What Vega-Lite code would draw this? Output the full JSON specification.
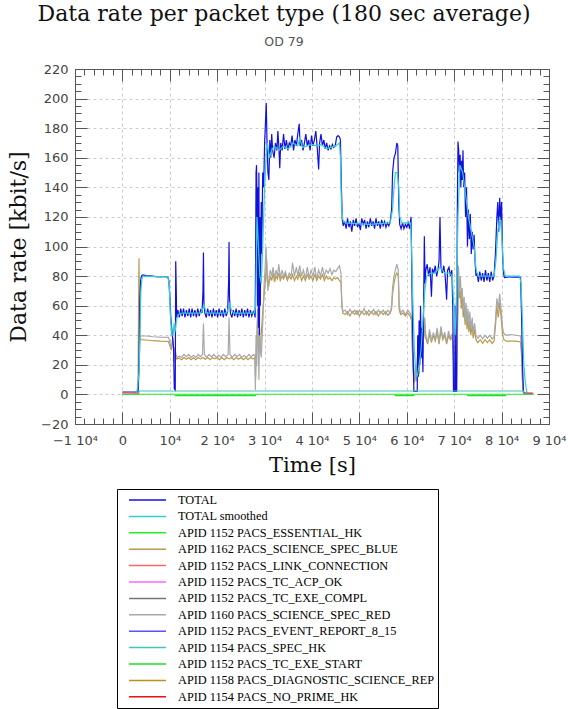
{
  "$schema": "https://vega.github.io/schema/vega-lite/v6.json",
  "width": 474,
  "height": 355,
  "autosize": {"type": "none"},
  "padding": {"left": 75, "top": 69, "right": 19, "bottom": 285},
  "background": "white",
  "title": {
    "text": "Data rate per packet type (180 sec average)",
    "subtitle": "OD 79",
    "font": "DejaVu Serif",
    "fontSize": 22,
    "fontWeight": "normal",
    "color": "#111111",
    "subtitleFont": "DejaVu Sans",
    "subtitleFontSize": 12.5,
    "subtitleColor": "#555555",
    "anchor": "middle",
    "dx": -28,
    "offset": 14,
    "subtitlePadding": 10
  },
  "config": {
    "view": {"stroke": null},
    "axis": {
      "domainColor": "#555555",
      "tickColor": "#555555",
      "labelColor": "#444444",
      "labelFont": "DejaVu Sans",
      "labelFontSize": 13,
      "titleFont": "DejaVu Serif",
      "titleFontSize": 21,
      "titleFontWeight": "normal",
      "titleColor": "#111111",
      "gridColor": "#cccccc",
      "gridDash": [3, 3],
      "gridWidth": 1
    },
    "legend": {
      "orient": "none",
      "legendX": 42,
      "legendY": 420,
      "strokeColor": "#000000",
      "fillColor": "#ffffff",
      "padding": 4,
      "labelFont": "Liberation Serif",
      "labelFontSize": 12.3,
      "labelColor": "#000000",
      "labelLimit": 400,
      "labelOffset": 11,
      "symbolType": "stroke",
      "symbolSize": 1369,
      "symbolStrokeWidth": 1.5,
      "symbolOffset": 7,
      "clipHeight": 14,
      "rowPadding": 2.4
    }
  },
  "data": {
    "values": [
      {"s":"APID 1162 PACS_SCIENCE_SPEC_BLUE","t":0,"v":0},{"s":"APID 1162 PACS_SCIENCE_SPEC_BLUE","t":3300,"v":0},{"s":"APID 1162 PACS_SCIENCE_SPEC_BLUE","t":3400,"v":55},{"s":"APID 1162 PACS_SCIENCE_SPEC_BLUE","t":3500,"v":92},{"s":"APID 1162 PACS_SCIENCE_SPEC_BLUE","t":3600,"v":60},{"s":"APID 1162 PACS_SCIENCE_SPEC_BLUE","t":3700,"v":40},{"s":"APID 1162 PACS_SCIENCE_SPEC_BLUE","t":3900,"v":37},{"s":"APID 1162 PACS_SCIENCE_SPEC_BLUE","t":5000,"v":36.8},{"s":"APID 1162 PACS_SCIENCE_SPEC_BLUE","t":6500,"v":36.3},{"s":"APID 1162 PACS_SCIENCE_SPEC_BLUE","t":8000,"v":36},{"s":"APID 1162 PACS_SCIENCE_SPEC_BLUE","t":9700,"v":35.8},{"s":"APID 1162 PACS_SCIENCE_SPEC_BLUE","t":9900,"v":34},{"s":"APID 1162 PACS_SCIENCE_SPEC_BLUE","t":10100,"v":32},{"s":"APID 1162 PACS_SCIENCE_SPEC_BLUE","t":10300,"v":30},{"s":"APID 1162 PACS_SCIENCE_SPEC_BLUE","t":10500,"v":34},{"s":"APID 1162 PACS_SCIENCE_SPEC_BLUE","t":10700,"v":36},{"s":"APID 1162 PACS_SCIENCE_SPEC_BLUE","t":10900,"v":24},{"s":"APID 1162 PACS_SCIENCE_SPEC_BLUE","t":11100,"v":29},{"s":"APID 1162 PACS_SCIENCE_SPEC_BLUE","t":11400,"v":24},
      {"s":"APID 1162 PACS_SCIENCE_SPEC_BLUE","t":12000,"v":24.5},{"s":"APID 1162 PACS_SCIENCE_SPEC_BLUE","t":12500,"v":23.5},{"s":"APID 1162 PACS_SCIENCE_SPEC_BLUE","t":13000,"v":25},{"s":"APID 1162 PACS_SCIENCE_SPEC_BLUE","t":13500,"v":23.8},{"s":"APID 1162 PACS_SCIENCE_SPEC_BLUE","t":14000,"v":25},{"s":"APID 1162 PACS_SCIENCE_SPEC_BLUE","t":14500,"v":23.5},{"s":"APID 1162 PACS_SCIENCE_SPEC_BLUE","t":15000,"v":24.8},{"s":"APID 1162 PACS_SCIENCE_SPEC_BLUE","t":15500,"v":23.5},{"s":"APID 1162 PACS_SCIENCE_SPEC_BLUE","t":16000,"v":25},{"s":"APID 1162 PACS_SCIENCE_SPEC_BLUE","t":16500,"v":24},{"s":"APID 1162 PACS_SCIENCE_SPEC_BLUE","t":17000,"v":25},{"s":"APID 1162 PACS_SCIENCE_SPEC_BLUE","t":17500,"v":23.8},{"s":"APID 1162 PACS_SCIENCE_SPEC_BLUE","t":18000,"v":25},{"s":"APID 1162 PACS_SCIENCE_SPEC_BLUE","t":18500,"v":23.5},{"s":"APID 1162 PACS_SCIENCE_SPEC_BLUE","t":19000,"v":25},{"s":"APID 1162 PACS_SCIENCE_SPEC_BLUE","t":19500,"v":24},{"s":"APID 1162 PACS_SCIENCE_SPEC_BLUE","t":20000,"v":25},{"s":"APID 1162 PACS_SCIENCE_SPEC_BLUE","t":20500,"v":23.5},{"s":"APID 1162 PACS_SCIENCE_SPEC_BLUE","t":21000,"v":24.8},{"s":"APID 1162 PACS_SCIENCE_SPEC_BLUE","t":21500,"v":23.5},{"s":"APID 1162 PACS_SCIENCE_SPEC_BLUE","t":22000,"v":25},{"s":"APID 1162 PACS_SCIENCE_SPEC_BLUE","t":22500,"v":24},{"s":"APID 1162 PACS_SCIENCE_SPEC_BLUE","t":23000,"v":25},{"s":"APID 1162 PACS_SCIENCE_SPEC_BLUE","t":23500,"v":23.5},{"s":"APID 1162 PACS_SCIENCE_SPEC_BLUE","t":24000,"v":25},{"s":"APID 1162 PACS_SCIENCE_SPEC_BLUE","t":24500,"v":23.8},{"s":"APID 1162 PACS_SCIENCE_SPEC_BLUE","t":25000,"v":25},{"s":"APID 1162 PACS_SCIENCE_SPEC_BLUE","t":25500,"v":23.5},{"s":"APID 1162 PACS_SCIENCE_SPEC_BLUE","t":26000,"v":24.8},{"s":"APID 1162 PACS_SCIENCE_SPEC_BLUE","t":26500,"v":23.5},{"s":"APID 1162 PACS_SCIENCE_SPEC_BLUE","t":27000,"v":25},{"s":"APID 1162 PACS_SCIENCE_SPEC_BLUE","t":27500,"v":24},{"s":"APID 1162 PACS_SCIENCE_SPEC_BLUE","t":27950,"v":24.5},
      {"s":"APID 1162 PACS_SCIENCE_SPEC_BLUE","t":28100,"v":10},{"s":"APID 1162 PACS_SCIENCE_SPEC_BLUE","t":28300,"v":35},{"s":"APID 1162 PACS_SCIENCE_SPEC_BLUE","t":28500,"v":50},{"s":"APID 1162 PACS_SCIENCE_SPEC_BLUE","t":28700,"v":30},{"s":"APID 1162 PACS_SCIENCE_SPEC_BLUE","t":28900,"v":40},{"s":"APID 1162 PACS_SCIENCE_SPEC_BLUE","t":29100,"v":28},{"s":"APID 1162 PACS_SCIENCE_SPEC_BLUE","t":29300,"v":42},{"s":"APID 1162 PACS_SCIENCE_SPEC_BLUE","t":29600,"v":55},{"s":"APID 1162 PACS_SCIENCE_SPEC_BLUE","t":29900,"v":68},{"s":"APID 1162 PACS_SCIENCE_SPEC_BLUE","t":30200,"v":78},{"s":"APID 1162 PACS_SCIENCE_SPEC_BLUE","t":30450,"v":91},{"s":"APID 1162 PACS_SCIENCE_SPEC_BLUE","t":30600,"v":76},{"s":"APID 1162 PACS_SCIENCE_SPEC_BLUE","t":30900,"v":74},{"s":"APID 1162 PACS_SCIENCE_SPEC_BLUE","t":31200,"v":80},{"s":"APID 1162 PACS_SCIENCE_SPEC_BLUE","t":31500,"v":77},{"s":"APID 1162 PACS_SCIENCE_SPEC_BLUE","t":31800,"v":82},{"s":"APID 1162 PACS_SCIENCE_SPEC_BLUE","t":32100,"v":76},{"s":"APID 1162 PACS_SCIENCE_SPEC_BLUE","t":32400,"v":80},{"s":"APID 1162 PACS_SCIENCE_SPEC_BLUE","t":32700,"v":78},{"s":"APID 1162 PACS_SCIENCE_SPEC_BLUE","t":33000,"v":82},{"s":"APID 1162 PACS_SCIENCE_SPEC_BLUE","t":33300,"v":77},{"s":"APID 1162 PACS_SCIENCE_SPEC_BLUE","t":33700,"v":80},{"s":"APID 1162 PACS_SCIENCE_SPEC_BLUE","t":34000,"v":78},{"s":"APID 1162 PACS_SCIENCE_SPEC_BLUE","t":34400,"v":81},{"s":"APID 1162 PACS_SCIENCE_SPEC_BLUE","t":34800,"v":77},{"s":"APID 1162 PACS_SCIENCE_SPEC_BLUE","t":35200,"v":80},{"s":"APID 1162 PACS_SCIENCE_SPEC_BLUE","t":35600,"v":78},{"s":"APID 1162 PACS_SCIENCE_SPEC_BLUE","t":35900,"v":81},{"s":"APID 1162 PACS_SCIENCE_SPEC_BLUE","t":36300,"v":77},{"s":"APID 1162 PACS_SCIENCE_SPEC_BLUE","t":36700,"v":80},{"s":"APID 1162 PACS_SCIENCE_SPEC_BLUE","t":37000,"v":78},{"s":"APID 1162 PACS_SCIENCE_SPEC_BLUE","t":37400,"v":82},{"s":"APID 1162 PACS_SCIENCE_SPEC_BLUE","t":37800,"v":77},{"s":"APID 1162 PACS_SCIENCE_SPEC_BLUE","t":38200,"v":80},{"s":"APID 1162 PACS_SCIENCE_SPEC_BLUE","t":38600,"v":77},{"s":"APID 1162 PACS_SCIENCE_SPEC_BLUE","t":39000,"v":81},{"s":"APID 1162 PACS_SCIENCE_SPEC_BLUE","t":39400,"v":78},{"s":"APID 1162 PACS_SCIENCE_SPEC_BLUE","t":39800,"v":80},{"s":"APID 1162 PACS_SCIENCE_SPEC_BLUE","t":40200,"v":77},{"s":"APID 1162 PACS_SCIENCE_SPEC_BLUE","t":40600,"v":81},{"s":"APID 1162 PACS_SCIENCE_SPEC_BLUE","t":41000,"v":77},{"s":"APID 1162 PACS_SCIENCE_SPEC_BLUE","t":41400,"v":80},{"s":"APID 1162 PACS_SCIENCE_SPEC_BLUE","t":41800,"v":78},{"s":"APID 1162 PACS_SCIENCE_SPEC_BLUE","t":42200,"v":81},{"s":"APID 1162 PACS_SCIENCE_SPEC_BLUE","t":42600,"v":77},{"s":"APID 1162 PACS_SCIENCE_SPEC_BLUE","t":43000,"v":80},{"s":"APID 1162 PACS_SCIENCE_SPEC_BLUE","t":43400,"v":78},{"s":"APID 1162 PACS_SCIENCE_SPEC_BLUE","t":43800,"v":79},{"s":"APID 1162 PACS_SCIENCE_SPEC_BLUE","t":44200,"v":77},{"s":"APID 1162 PACS_SCIENCE_SPEC_BLUE","t":44600,"v":79},{"s":"APID 1162 PACS_SCIENCE_SPEC_BLUE","t":45000,"v":78},{"s":"APID 1162 PACS_SCIENCE_SPEC_BLUE","t":45400,"v":79},{"s":"APID 1162 PACS_SCIENCE_SPEC_BLUE","t":45800,"v":77},{"s":"APID 1162 PACS_SCIENCE_SPEC_BLUE","t":46100,"v":76},{"s":"APID 1162 PACS_SCIENCE_SPEC_BLUE","t":46300,"v":60},{"s":"APID 1162 PACS_SCIENCE_SPEC_BLUE","t":46500,"v":55},
      {"s":"APID 1162 PACS_SCIENCE_SPEC_BLUE","t":47000,"v":54},{"s":"APID 1162 PACS_SCIENCE_SPEC_BLUE","t":47500,"v":56},{"s":"APID 1162 PACS_SCIENCE_SPEC_BLUE","t":48000,"v":53},{"s":"APID 1162 PACS_SCIENCE_SPEC_BLUE","t":48500,"v":56},{"s":"APID 1162 PACS_SCIENCE_SPEC_BLUE","t":49000,"v":54},{"s":"APID 1162 PACS_SCIENCE_SPEC_BLUE","t":49500,"v":56.5},{"s":"APID 1162 PACS_SCIENCE_SPEC_BLUE","t":50000,"v":53},{"s":"APID 1162 PACS_SCIENCE_SPEC_BLUE","t":50500,"v":56},{"s":"APID 1162 PACS_SCIENCE_SPEC_BLUE","t":51000,"v":54},{"s":"APID 1162 PACS_SCIENCE_SPEC_BLUE","t":51500,"v":56},{"s":"APID 1162 PACS_SCIENCE_SPEC_BLUE","t":52000,"v":53.5},{"s":"APID 1162 PACS_SCIENCE_SPEC_BLUE","t":52500,"v":56},{"s":"APID 1162 PACS_SCIENCE_SPEC_BLUE","t":53000,"v":54},{"s":"APID 1162 PACS_SCIENCE_SPEC_BLUE","t":53500,"v":56},{"s":"APID 1162 PACS_SCIENCE_SPEC_BLUE","t":54000,"v":53},{"s":"APID 1162 PACS_SCIENCE_SPEC_BLUE","t":54500,"v":56},{"s":"APID 1162 PACS_SCIENCE_SPEC_BLUE","t":55000,"v":54},{"s":"APID 1162 PACS_SCIENCE_SPEC_BLUE","t":55500,"v":56},{"s":"APID 1162 PACS_SCIENCE_SPEC_BLUE","t":56000,"v":53.5},{"s":"APID 1162 PACS_SCIENCE_SPEC_BLUE","t":56500,"v":55},
      {"s":"APID 1162 PACS_SCIENCE_SPEC_BLUE","t":56800,"v":58},{"s":"APID 1162 PACS_SCIENCE_SPEC_BLUE","t":57000,"v":68},{"s":"APID 1162 PACS_SCIENCE_SPEC_BLUE","t":57300,"v":75},{"s":"APID 1162 PACS_SCIENCE_SPEC_BLUE","t":57600,"v":80},{"s":"APID 1162 PACS_SCIENCE_SPEC_BLUE","t":57900,"v":82},{"s":"APID 1162 PACS_SCIENCE_SPEC_BLUE","t":58200,"v":80},{"s":"APID 1162 PACS_SCIENCE_SPEC_BLUE","t":58400,"v":57},{"s":"APID 1162 PACS_SCIENCE_SPEC_BLUE","t":58700,"v":54},{"s":"APID 1162 PACS_SCIENCE_SPEC_BLUE","t":59200,"v":55},{"s":"APID 1162 PACS_SCIENCE_SPEC_BLUE","t":59700,"v":53},{"s":"APID 1162 PACS_SCIENCE_SPEC_BLUE","t":60200,"v":55},{"s":"APID 1162 PACS_SCIENCE_SPEC_BLUE","t":60700,"v":53},{"s":"APID 1162 PACS_SCIENCE_SPEC_BLUE","t":61000,"v":50},{"s":"APID 1162 PACS_SCIENCE_SPEC_BLUE","t":61200,"v":28},{"s":"APID 1162 PACS_SCIENCE_SPEC_BLUE","t":61400,"v":14},{"s":"APID 1162 PACS_SCIENCE_SPEC_BLUE","t":61600,"v":8},{"s":"APID 1162 PACS_SCIENCE_SPEC_BLUE","t":61800,"v":18},{"s":"APID 1162 PACS_SCIENCE_SPEC_BLUE","t":62000,"v":9},{"s":"APID 1162 PACS_SCIENCE_SPEC_BLUE","t":62200,"v":20},{"s":"APID 1162 PACS_SCIENCE_SPEC_BLUE","t":62400,"v":30},{"s":"APID 1162 PACS_SCIENCE_SPEC_BLUE","t":62600,"v":14},{"s":"APID 1162 PACS_SCIENCE_SPEC_BLUE","t":62800,"v":38},{"s":"APID 1162 PACS_SCIENCE_SPEC_BLUE","t":63000,"v":24},{"s":"APID 1162 PACS_SCIENCE_SPEC_BLUE","t":63200,"v":34},{"s":"APID 1162 PACS_SCIENCE_SPEC_BLUE","t":63400,"v":46},{"s":"APID 1162 PACS_SCIENCE_SPEC_BLUE","t":63600,"v":38},{"s":"APID 1162 PACS_SCIENCE_SPEC_BLUE","t":63800,"v":48},{"s":"APID 1162 PACS_SCIENCE_SPEC_BLUE","t":64000,"v":38},{"s":"APID 1162 PACS_SCIENCE_SPEC_BLUE","t":64400,"v":34},{"s":"APID 1162 PACS_SCIENCE_SPEC_BLUE","t":64800,"v":41},{"s":"APID 1162 PACS_SCIENCE_SPEC_BLUE","t":65200,"v":35},{"s":"APID 1162 PACS_SCIENCE_SPEC_BLUE","t":65600,"v":40},{"s":"APID 1162 PACS_SCIENCE_SPEC_BLUE","t":66000,"v":36},{"s":"APID 1162 PACS_SCIENCE_SPEC_BLUE","t":66400,"v":42},{"s":"APID 1162 PACS_SCIENCE_SPEC_BLUE","t":66800,"v":34},{"s":"APID 1162 PACS_SCIENCE_SPEC_BLUE","t":67200,"v":43},{"s":"APID 1162 PACS_SCIENCE_SPEC_BLUE","t":67600,"v":37},{"s":"APID 1162 PACS_SCIENCE_SPEC_BLUE","t":68000,"v":40},{"s":"APID 1162 PACS_SCIENCE_SPEC_BLUE","t":68400,"v":34},{"s":"APID 1162 PACS_SCIENCE_SPEC_BLUE","t":68800,"v":40},{"s":"APID 1162 PACS_SCIENCE_SPEC_BLUE","t":69200,"v":37},{"s":"APID 1162 PACS_SCIENCE_SPEC_BLUE","t":69600,"v":39},{"s":"APID 1162 PACS_SCIENCE_SPEC_BLUE","t":69800,"v":28},{"s":"APID 1162 PACS_SCIENCE_SPEC_BLUE","t":70000,"v":2},{"s":"APID 1162 PACS_SCIENCE_SPEC_BLUE","t":70500,"v":2},{"s":"APID 1162 PACS_SCIENCE_SPEC_BLUE","t":70700,"v":45},{"s":"APID 1162 PACS_SCIENCE_SPEC_BLUE","t":70900,"v":75},{"s":"APID 1162 PACS_SCIENCE_SPEC_BLUE","t":71100,"v":65},{"s":"APID 1162 PACS_SCIENCE_SPEC_BLUE","t":71300,"v":70},{"s":"APID 1162 PACS_SCIENCE_SPEC_BLUE","t":71500,"v":58},{"s":"APID 1162 PACS_SCIENCE_SPEC_BLUE","t":71700,"v":66},{"s":"APID 1162 PACS_SCIENCE_SPEC_BLUE","t":71900,"v":52},{"s":"APID 1162 PACS_SCIENCE_SPEC_BLUE","t":72100,"v":60},{"s":"APID 1162 PACS_SCIENCE_SPEC_BLUE","t":72300,"v":47},{"s":"APID 1162 PACS_SCIENCE_SPEC_BLUE","t":72500,"v":57},{"s":"APID 1162 PACS_SCIENCE_SPEC_BLUE","t":72700,"v":44},{"s":"APID 1162 PACS_SCIENCE_SPEC_BLUE","t":72900,"v":52},{"s":"APID 1162 PACS_SCIENCE_SPEC_BLUE","t":73100,"v":42},{"s":"APID 1162 PACS_SCIENCE_SPEC_BLUE","t":73300,"v":50},{"s":"APID 1162 PACS_SCIENCE_SPEC_BLUE","t":73500,"v":40},{"s":"APID 1162 PACS_SCIENCE_SPEC_BLUE","t":73800,"v":47},{"s":"APID 1162 PACS_SCIENCE_SPEC_BLUE","t":74000,"v":38},{"s":"APID 1162 PACS_SCIENCE_SPEC_BLUE","t":74300,"v":44},{"s":"APID 1162 PACS_SCIENCE_SPEC_BLUE","t":74600,"v":37},{"s":"APID 1162 PACS_SCIENCE_SPEC_BLUE","t":75000,"v":35},{"s":"APID 1162 PACS_SCIENCE_SPEC_BLUE","t":75500,"v":37},{"s":"APID 1162 PACS_SCIENCE_SPEC_BLUE","t":76000,"v":34.5},{"s":"APID 1162 PACS_SCIENCE_SPEC_BLUE","t":76500,"v":37},{"s":"APID 1162 PACS_SCIENCE_SPEC_BLUE","t":77000,"v":35},{"s":"APID 1162 PACS_SCIENCE_SPEC_BLUE","t":77500,"v":37},{"s":"APID 1162 PACS_SCIENCE_SPEC_BLUE","t":78000,"v":34.5},{"s":"APID 1162 PACS_SCIENCE_SPEC_BLUE","t":78400,"v":36},{"s":"APID 1162 PACS_SCIENCE_SPEC_BLUE","t":78700,"v":46},{"s":"APID 1162 PACS_SCIENCE_SPEC_BLUE","t":79000,"v":60},{"s":"APID 1162 PACS_SCIENCE_SPEC_BLUE","t":79300,"v":52},{"s":"APID 1162 PACS_SCIENCE_SPEC_BLUE","t":79600,"v":62},{"s":"APID 1162 PACS_SCIENCE_SPEC_BLUE","t":79900,"v":52},{"s":"APID 1162 PACS_SCIENCE_SPEC_BLUE","t":80200,"v":40},{"s":"APID 1162 PACS_SCIENCE_SPEC_BLUE","t":80500,"v":37},{"s":"APID 1162 PACS_SCIENCE_SPEC_BLUE","t":81000,"v":36},{"s":"APID 1162 PACS_SCIENCE_SPEC_BLUE","t":82000,"v":36},{"s":"APID 1162 PACS_SCIENCE_SPEC_BLUE","t":83000,"v":36},{"s":"APID 1162 PACS_SCIENCE_SPEC_BLUE","t":84000,"v":35.5},{"s":"APID 1162 PACS_SCIENCE_SPEC_BLUE","t":84200,"v":27},{"s":"APID 1162 PACS_SCIENCE_SPEC_BLUE","t":84400,"v":9},{"s":"APID 1162 PACS_SCIENCE_SPEC_BLUE","t":84600,"v":1},{"s":"APID 1162 PACS_SCIENCE_SPEC_BLUE","t":85000,"v":0},

      {"s":"APID 1160 PACS_SCIENCE_SPEC_RED","t":0,"v":0},{"s":"APID 1160 PACS_SCIENCE_SPEC_RED","t":3300,"v":0},{"s":"APID 1160 PACS_SCIENCE_SPEC_RED","t":3500,"v":12},{"s":"APID 1160 PACS_SCIENCE_SPEC_RED","t":3650,"v":32},{"s":"APID 1160 PACS_SCIENCE_SPEC_RED","t":3800,"v":39.5},{"s":"APID 1160 PACS_SCIENCE_SPEC_RED","t":5000,"v":39.5},{"s":"APID 1160 PACS_SCIENCE_SPEC_RED","t":6500,"v":39},{"s":"APID 1160 PACS_SCIENCE_SPEC_RED","t":8000,"v":38.7},{"s":"APID 1160 PACS_SCIENCE_SPEC_RED","t":9700,"v":38.6},{"s":"APID 1160 PACS_SCIENCE_SPEC_RED","t":9900,"v":37},{"s":"APID 1160 PACS_SCIENCE_SPEC_RED","t":10100,"v":34},{"s":"APID 1160 PACS_SCIENCE_SPEC_RED","t":10300,"v":31},{"s":"APID 1160 PACS_SCIENCE_SPEC_RED","t":10500,"v":36},{"s":"APID 1160 PACS_SCIENCE_SPEC_RED","t":10700,"v":38},{"s":"APID 1160 PACS_SCIENCE_SPEC_RED","t":10900,"v":22},{"s":"APID 1160 PACS_SCIENCE_SPEC_RED","t":11100,"v":32},{"s":"APID 1160 PACS_SCIENCE_SPEC_RED","t":11300,"v":27},{"s":"APID 1160 PACS_SCIENCE_SPEC_RED","t":11600,"v":25},
      {"s":"APID 1160 PACS_SCIENCE_SPEC_RED","t":12000,"v":26},{"s":"APID 1160 PACS_SCIENCE_SPEC_RED","t":12500,"v":25},{"s":"APID 1160 PACS_SCIENCE_SPEC_RED","t":13000,"v":27},{"s":"APID 1160 PACS_SCIENCE_SPEC_RED","t":13500,"v":25.5},{"s":"APID 1160 PACS_SCIENCE_SPEC_RED","t":14000,"v":27},{"s":"APID 1160 PACS_SCIENCE_SPEC_RED","t":14500,"v":25},{"s":"APID 1160 PACS_SCIENCE_SPEC_RED","t":15000,"v":26.5},{"s":"APID 1160 PACS_SCIENCE_SPEC_RED","t":15500,"v":25},{"s":"APID 1160 PACS_SCIENCE_SPEC_RED","t":16000,"v":27},{"s":"APID 1160 PACS_SCIENCE_SPEC_RED","t":16500,"v":25.5},{"s":"APID 1160 PACS_SCIENCE_SPEC_RED","t":16900,"v":27},{"s":"APID 1160 PACS_SCIENCE_SPEC_RED","t":17100,"v":48},{"s":"APID 1160 PACS_SCIENCE_SPEC_RED","t":17300,"v":27},{"s":"APID 1160 PACS_SCIENCE_SPEC_RED","t":17800,"v":25},{"s":"APID 1160 PACS_SCIENCE_SPEC_RED","t":18300,"v":27},{"s":"APID 1160 PACS_SCIENCE_SPEC_RED","t":18800,"v":25.5},{"s":"APID 1160 PACS_SCIENCE_SPEC_RED","t":19300,"v":27},{"s":"APID 1160 PACS_SCIENCE_SPEC_RED","t":19800,"v":25},{"s":"APID 1160 PACS_SCIENCE_SPEC_RED","t":20300,"v":26.5},{"s":"APID 1160 PACS_SCIENCE_SPEC_RED","t":20800,"v":25},{"s":"APID 1160 PACS_SCIENCE_SPEC_RED","t":21300,"v":27},{"s":"APID 1160 PACS_SCIENCE_SPEC_RED","t":21800,"v":25.5},{"s":"APID 1160 PACS_SCIENCE_SPEC_RED","t":22300,"v":27},{"s":"APID 1160 PACS_SCIENCE_SPEC_RED","t":22500,"v":52},{"s":"APID 1160 PACS_SCIENCE_SPEC_RED","t":22700,"v":27},{"s":"APID 1160 PACS_SCIENCE_SPEC_RED","t":23200,"v":25},{"s":"APID 1160 PACS_SCIENCE_SPEC_RED","t":23700,"v":27},{"s":"APID 1160 PACS_SCIENCE_SPEC_RED","t":24200,"v":25.5},{"s":"APID 1160 PACS_SCIENCE_SPEC_RED","t":24700,"v":27},{"s":"APID 1160 PACS_SCIENCE_SPEC_RED","t":25200,"v":25},{"s":"APID 1160 PACS_SCIENCE_SPEC_RED","t":25700,"v":26.5},{"s":"APID 1160 PACS_SCIENCE_SPEC_RED","t":26200,"v":25},{"s":"APID 1160 PACS_SCIENCE_SPEC_RED","t":26700,"v":27},{"s":"APID 1160 PACS_SCIENCE_SPEC_RED","t":27200,"v":25.5},{"s":"APID 1160 PACS_SCIENCE_SPEC_RED","t":27700,"v":27},{"s":"APID 1160 PACS_SCIENCE_SPEC_RED","t":27950,"v":26},
      {"s":"APID 1160 PACS_SCIENCE_SPEC_RED","t":28050,"v":3},{"s":"APID 1160 PACS_SCIENCE_SPEC_RED","t":28200,"v":40},{"s":"APID 1160 PACS_SCIENCE_SPEC_RED","t":28350,"v":20},{"s":"APID 1160 PACS_SCIENCE_SPEC_RED","t":28500,"v":58},{"s":"APID 1160 PACS_SCIENCE_SPEC_RED","t":28650,"v":35},{"s":"APID 1160 PACS_SCIENCE_SPEC_RED","t":28800,"v":10},{"s":"APID 1160 PACS_SCIENCE_SPEC_RED","t":28950,"v":45},{"s":"APID 1160 PACS_SCIENCE_SPEC_RED","t":29100,"v":30},{"s":"APID 1160 PACS_SCIENCE_SPEC_RED","t":29300,"v":25},{"s":"APID 1160 PACS_SCIENCE_SPEC_RED","t":29500,"v":40},{"s":"APID 1160 PACS_SCIENCE_SPEC_RED","t":29700,"v":55},{"s":"APID 1160 PACS_SCIENCE_SPEC_RED","t":29900,"v":75},{"s":"APID 1160 PACS_SCIENCE_SPEC_RED","t":30100,"v":85},{"s":"APID 1160 PACS_SCIENCE_SPEC_RED","t":30300,"v":100},{"s":"APID 1160 PACS_SCIENCE_SPEC_RED","t":30500,"v":82},{"s":"APID 1160 PACS_SCIENCE_SPEC_RED","t":30700,"v":70},{"s":"APID 1160 PACS_SCIENCE_SPEC_RED","t":30900,"v":78},{"s":"APID 1160 PACS_SCIENCE_SPEC_RED","t":31200,"v":84},{"s":"APID 1160 PACS_SCIENCE_SPEC_RED","t":31500,"v":80},{"s":"APID 1160 PACS_SCIENCE_SPEC_RED","t":31800,"v":86},{"s":"APID 1160 PACS_SCIENCE_SPEC_RED","t":32100,"v":78},{"s":"APID 1160 PACS_SCIENCE_SPEC_RED","t":32400,"v":84},{"s":"APID 1160 PACS_SCIENCE_SPEC_RED","t":32700,"v":80},{"s":"APID 1160 PACS_SCIENCE_SPEC_RED","t":33000,"v":88},{"s":"APID 1160 PACS_SCIENCE_SPEC_RED","t":33300,"v":79},{"s":"APID 1160 PACS_SCIENCE_SPEC_RED","t":33700,"v":84},{"s":"APID 1160 PACS_SCIENCE_SPEC_RED","t":34000,"v":80},{"s":"APID 1160 PACS_SCIENCE_SPEC_RED","t":34400,"v":83},{"s":"APID 1160 PACS_SCIENCE_SPEC_RED","t":34800,"v":78},{"s":"APID 1160 PACS_SCIENCE_SPEC_RED","t":35200,"v":82},{"s":"APID 1160 PACS_SCIENCE_SPEC_RED","t":35600,"v":80},{"s":"APID 1160 PACS_SCIENCE_SPEC_RED","t":35900,"v":89},{"s":"APID 1160 PACS_SCIENCE_SPEC_RED","t":36300,"v":80},{"s":"APID 1160 PACS_SCIENCE_SPEC_RED","t":36700,"v":86},{"s":"APID 1160 PACS_SCIENCE_SPEC_RED","t":37000,"v":80},{"s":"APID 1160 PACS_SCIENCE_SPEC_RED","t":37400,"v":87},{"s":"APID 1160 PACS_SCIENCE_SPEC_RED","t":37800,"v":80},{"s":"APID 1160 PACS_SCIENCE_SPEC_RED","t":38200,"v":84},{"s":"APID 1160 PACS_SCIENCE_SPEC_RED","t":38600,"v":78},{"s":"APID 1160 PACS_SCIENCE_SPEC_RED","t":39000,"v":86},{"s":"APID 1160 PACS_SCIENCE_SPEC_RED","t":39400,"v":79},{"s":"APID 1160 PACS_SCIENCE_SPEC_RED","t":39800,"v":84},{"s":"APID 1160 PACS_SCIENCE_SPEC_RED","t":40200,"v":80},{"s":"APID 1160 PACS_SCIENCE_SPEC_RED","t":40600,"v":86},{"s":"APID 1160 PACS_SCIENCE_SPEC_RED","t":41000,"v":78},{"s":"APID 1160 PACS_SCIENCE_SPEC_RED","t":41400,"v":84},{"s":"APID 1160 PACS_SCIENCE_SPEC_RED","t":41800,"v":80},{"s":"APID 1160 PACS_SCIENCE_SPEC_RED","t":42200,"v":86},{"s":"APID 1160 PACS_SCIENCE_SPEC_RED","t":42600,"v":80},{"s":"APID 1160 PACS_SCIENCE_SPEC_RED","t":43000,"v":84},{"s":"APID 1160 PACS_SCIENCE_SPEC_RED","t":43400,"v":82},{"s":"APID 1160 PACS_SCIENCE_SPEC_RED","t":43800,"v":85},{"s":"APID 1160 PACS_SCIENCE_SPEC_RED","t":44200,"v":81},{"s":"APID 1160 PACS_SCIENCE_SPEC_RED","t":44600,"v":84},{"s":"APID 1160 PACS_SCIENCE_SPEC_RED","t":45000,"v":83},{"s":"APID 1160 PACS_SCIENCE_SPEC_RED","t":45400,"v":85},{"s":"APID 1160 PACS_SCIENCE_SPEC_RED","t":45800,"v":87},{"s":"APID 1160 PACS_SCIENCE_SPEC_RED","t":46100,"v":82},{"s":"APID 1160 PACS_SCIENCE_SPEC_RED","t":46300,"v":62},{"s":"APID 1160 PACS_SCIENCE_SPEC_RED","t":46500,"v":56},
      {"s":"APID 1160 PACS_SCIENCE_SPEC_RED","t":47000,"v":57},{"s":"APID 1160 PACS_SCIENCE_SPEC_RED","t":47500,"v":54},{"s":"APID 1160 PACS_SCIENCE_SPEC_RED","t":48000,"v":57.5},{"s":"APID 1160 PACS_SCIENCE_SPEC_RED","t":48500,"v":55},{"s":"APID 1160 PACS_SCIENCE_SPEC_RED","t":49000,"v":57},{"s":"APID 1160 PACS_SCIENCE_SPEC_RED","t":49500,"v":54},{"s":"APID 1160 PACS_SCIENCE_SPEC_RED","t":50000,"v":57},{"s":"APID 1160 PACS_SCIENCE_SPEC_RED","t":50500,"v":55},{"s":"APID 1160 PACS_SCIENCE_SPEC_RED","t":51000,"v":58},{"s":"APID 1160 PACS_SCIENCE_SPEC_RED","t":51500,"v":54},{"s":"APID 1160 PACS_SCIENCE_SPEC_RED","t":52000,"v":57},{"s":"APID 1160 PACS_SCIENCE_SPEC_RED","t":52500,"v":55},{"s":"APID 1160 PACS_SCIENCE_SPEC_RED","t":53000,"v":57.5},{"s":"APID 1160 PACS_SCIENCE_SPEC_RED","t":53500,"v":54},{"s":"APID 1160 PACS_SCIENCE_SPEC_RED","t":54000,"v":57},{"s":"APID 1160 PACS_SCIENCE_SPEC_RED","t":54500,"v":55},{"s":"APID 1160 PACS_SCIENCE_SPEC_RED","t":55000,"v":57},{"s":"APID 1160 PACS_SCIENCE_SPEC_RED","t":55500,"v":54},{"s":"APID 1160 PACS_SCIENCE_SPEC_RED","t":56000,"v":57},{"s":"APID 1160 PACS_SCIENCE_SPEC_RED","t":56500,"v":55},
      {"s":"APID 1160 PACS_SCIENCE_SPEC_RED","t":56800,"v":60},{"s":"APID 1160 PACS_SCIENCE_SPEC_RED","t":57000,"v":72},{"s":"APID 1160 PACS_SCIENCE_SPEC_RED","t":57300,"v":80},{"s":"APID 1160 PACS_SCIENCE_SPEC_RED","t":57600,"v":84},{"s":"APID 1160 PACS_SCIENCE_SPEC_RED","t":57900,"v":88},{"s":"APID 1160 PACS_SCIENCE_SPEC_RED","t":58200,"v":84},{"s":"APID 1160 PACS_SCIENCE_SPEC_RED","t":58400,"v":60},{"s":"APID 1160 PACS_SCIENCE_SPEC_RED","t":58700,"v":55},{"s":"APID 1160 PACS_SCIENCE_SPEC_RED","t":59200,"v":57},{"s":"APID 1160 PACS_SCIENCE_SPEC_RED","t":59700,"v":54},{"s":"APID 1160 PACS_SCIENCE_SPEC_RED","t":60200,"v":57},{"s":"APID 1160 PACS_SCIENCE_SPEC_RED","t":60700,"v":55},{"s":"APID 1160 PACS_SCIENCE_SPEC_RED","t":61000,"v":52},{"s":"APID 1160 PACS_SCIENCE_SPEC_RED","t":61200,"v":30},{"s":"APID 1160 PACS_SCIENCE_SPEC_RED","t":61400,"v":15},{"s":"APID 1160 PACS_SCIENCE_SPEC_RED","t":61600,"v":8},{"s":"APID 1160 PACS_SCIENCE_SPEC_RED","t":61800,"v":20},{"s":"APID 1160 PACS_SCIENCE_SPEC_RED","t":62000,"v":9},{"s":"APID 1160 PACS_SCIENCE_SPEC_RED","t":62200,"v":22},{"s":"APID 1160 PACS_SCIENCE_SPEC_RED","t":62400,"v":32},{"s":"APID 1160 PACS_SCIENCE_SPEC_RED","t":62600,"v":14},{"s":"APID 1160 PACS_SCIENCE_SPEC_RED","t":62800,"v":42},{"s":"APID 1160 PACS_SCIENCE_SPEC_RED","t":63000,"v":25},{"s":"APID 1160 PACS_SCIENCE_SPEC_RED","t":63200,"v":36},{"s":"APID 1160 PACS_SCIENCE_SPEC_RED","t":63400,"v":50},{"s":"APID 1160 PACS_SCIENCE_SPEC_RED","t":63600,"v":40},{"s":"APID 1160 PACS_SCIENCE_SPEC_RED","t":63800,"v":52},{"s":"APID 1160 PACS_SCIENCE_SPEC_RED","t":64000,"v":40},{"s":"APID 1160 PACS_SCIENCE_SPEC_RED","t":64400,"v":35},{"s":"APID 1160 PACS_SCIENCE_SPEC_RED","t":64800,"v":44},{"s":"APID 1160 PACS_SCIENCE_SPEC_RED","t":65200,"v":36},{"s":"APID 1160 PACS_SCIENCE_SPEC_RED","t":65600,"v":42},{"s":"APID 1160 PACS_SCIENCE_SPEC_RED","t":66000,"v":37},{"s":"APID 1160 PACS_SCIENCE_SPEC_RED","t":66400,"v":45},{"s":"APID 1160 PACS_SCIENCE_SPEC_RED","t":66800,"v":35},{"s":"APID 1160 PACS_SCIENCE_SPEC_RED","t":67200,"v":46},{"s":"APID 1160 PACS_SCIENCE_SPEC_RED","t":67600,"v":38},{"s":"APID 1160 PACS_SCIENCE_SPEC_RED","t":68000,"v":42},{"s":"APID 1160 PACS_SCIENCE_SPEC_RED","t":68400,"v":35},{"s":"APID 1160 PACS_SCIENCE_SPEC_RED","t":68800,"v":43},{"s":"APID 1160 PACS_SCIENCE_SPEC_RED","t":69200,"v":38},{"s":"APID 1160 PACS_SCIENCE_SPEC_RED","t":69600,"v":41},{"s":"APID 1160 PACS_SCIENCE_SPEC_RED","t":69800,"v":30},{"s":"APID 1160 PACS_SCIENCE_SPEC_RED","t":70000,"v":2},{"s":"APID 1160 PACS_SCIENCE_SPEC_RED","t":70500,"v":2},{"s":"APID 1160 PACS_SCIENCE_SPEC_RED","t":70700,"v":50},{"s":"APID 1160 PACS_SCIENCE_SPEC_RED","t":70900,"v":87},{"s":"APID 1160 PACS_SCIENCE_SPEC_RED","t":71100,"v":70},{"s":"APID 1160 PACS_SCIENCE_SPEC_RED","t":71300,"v":80},{"s":"APID 1160 PACS_SCIENCE_SPEC_RED","t":71500,"v":65},{"s":"APID 1160 PACS_SCIENCE_SPEC_RED","t":71700,"v":72},{"s":"APID 1160 PACS_SCIENCE_SPEC_RED","t":71900,"v":56},{"s":"APID 1160 PACS_SCIENCE_SPEC_RED","t":72100,"v":66},{"s":"APID 1160 PACS_SCIENCE_SPEC_RED","t":72300,"v":50},{"s":"APID 1160 PACS_SCIENCE_SPEC_RED","t":72500,"v":62},{"s":"APID 1160 PACS_SCIENCE_SPEC_RED","t":72700,"v":48},{"s":"APID 1160 PACS_SCIENCE_SPEC_RED","t":72900,"v":58},{"s":"APID 1160 PACS_SCIENCE_SPEC_RED","t":73100,"v":45},{"s":"APID 1160 PACS_SCIENCE_SPEC_RED","t":73300,"v":56},{"s":"APID 1160 PACS_SCIENCE_SPEC_RED","t":73500,"v":44},{"s":"APID 1160 PACS_SCIENCE_SPEC_RED","t":73800,"v":52},{"s":"APID 1160 PACS_SCIENCE_SPEC_RED","t":74000,"v":42},{"s":"APID 1160 PACS_SCIENCE_SPEC_RED","t":74300,"v":48},{"s":"APID 1160 PACS_SCIENCE_SPEC_RED","t":74600,"v":40},{"s":"APID 1160 PACS_SCIENCE_SPEC_RED","t":75000,"v":38},{"s":"APID 1160 PACS_SCIENCE_SPEC_RED","t":75500,"v":40},{"s":"APID 1160 PACS_SCIENCE_SPEC_RED","t":76000,"v":37.5},{"s":"APID 1160 PACS_SCIENCE_SPEC_RED","t":76500,"v":40},{"s":"APID 1160 PACS_SCIENCE_SPEC_RED","t":77000,"v":38},{"s":"APID 1160 PACS_SCIENCE_SPEC_RED","t":77500,"v":40},{"s":"APID 1160 PACS_SCIENCE_SPEC_RED","t":78000,"v":37.5},{"s":"APID 1160 PACS_SCIENCE_SPEC_RED","t":78400,"v":39},{"s":"APID 1160 PACS_SCIENCE_SPEC_RED","t":78700,"v":50},{"s":"APID 1160 PACS_SCIENCE_SPEC_RED","t":79000,"v":65},{"s":"APID 1160 PACS_SCIENCE_SPEC_RED","t":79300,"v":58},{"s":"APID 1160 PACS_SCIENCE_SPEC_RED","t":79600,"v":68},{"s":"APID 1160 PACS_SCIENCE_SPEC_RED","t":79900,"v":57},{"s":"APID 1160 PACS_SCIENCE_SPEC_RED","t":80200,"v":45},{"s":"APID 1160 PACS_SCIENCE_SPEC_RED","t":80500,"v":41},{"s":"APID 1160 PACS_SCIENCE_SPEC_RED","t":81000,"v":40},{"s":"APID 1160 PACS_SCIENCE_SPEC_RED","t":82000,"v":40.5},{"s":"APID 1160 PACS_SCIENCE_SPEC_RED","t":83000,"v":40},{"s":"APID 1160 PACS_SCIENCE_SPEC_RED","t":84000,"v":39.5},{"s":"APID 1160 PACS_SCIENCE_SPEC_RED","t":84200,"v":30},{"s":"APID 1160 PACS_SCIENCE_SPEC_RED","t":84400,"v":10},{"s":"APID 1160 PACS_SCIENCE_SPEC_RED","t":84600,"v":1},{"s":"APID 1160 PACS_SCIENCE_SPEC_RED","t":85000,"v":0},

      {"s":"TOTAL","t":0,"v":1.5},{"s":"TOTAL","t":3000,"v":1.5},{"s":"TOTAL","t":3300,"v":2},{"s":"TOTAL","t":3500,"v":22},{"s":"TOTAL","t":3600,"v":42},{"s":"TOTAL","t":3700,"v":64},{"s":"TOTAL","t":3850,"v":77},{"s":"TOTAL","t":4000,"v":80},{"s":"TOTAL","t":4300,"v":80.8},{"s":"TOTAL","t":5000,"v":80.3},{"s":"TOTAL","t":6000,"v":80.1},{"s":"TOTAL","t":7000,"v":79.6},{"s":"TOTAL","t":8000,"v":79.4},{"s":"TOTAL","t":9000,"v":79.7},{"s":"TOTAL","t":9600,"v":79.2},{"s":"TOTAL","t":9800,"v":77},{"s":"TOTAL","t":10000,"v":66},{"s":"TOTAL","t":10200,"v":53},{"s":"TOTAL","t":10400,"v":45},{"s":"TOTAL","t":10600,"v":38},{"s":"TOTAL","t":10800,"v":31},{"s":"TOTAL","t":10950,"v":4},{"s":"TOTAL","t":11150,"v":3},{"s":"TOTAL","t":11250,"v":90},{"s":"TOTAL","t":11350,"v":73},{"s":"TOTAL","t":11450,"v":52},{"s":"TOTAL","t":11700,"v":57},
      {"s":"TOTAL","t":12000,"v":52},{"s":"TOTAL","t":12300,"v":58},{"s":"TOTAL","t":12600,"v":53},{"s":"TOTAL","t":12900,"v":58},{"s":"TOTAL","t":13200,"v":52},{"s":"TOTAL","t":13500,"v":57},{"s":"TOTAL","t":13800,"v":53},{"s":"TOTAL","t":14100,"v":58},{"s":"TOTAL","t":14400,"v":52},{"s":"TOTAL","t":14700,"v":58},{"s":"TOTAL","t":15000,"v":53},{"s":"TOTAL","t":15300,"v":57},{"s":"TOTAL","t":15600,"v":52},{"s":"TOTAL","t":15900,"v":58},{"s":"TOTAL","t":16200,"v":53},{"s":"TOTAL","t":16500,"v":57},{"s":"TOTAL","t":16800,"v":55},{"s":"TOTAL","t":17000,"v":70},{"s":"TOTAL","t":17100,"v":96},{"s":"TOTAL","t":17200,"v":62},{"s":"TOTAL","t":17400,"v":55},{"s":"TOTAL","t":17700,"v":52},{"s":"TOTAL","t":18000,"v":58},{"s":"TOTAL","t":18300,"v":53},{"s":"TOTAL","t":18600,"v":57},{"s":"TOTAL","t":18900,"v":52},{"s":"TOTAL","t":19200,"v":58},{"s":"TOTAL","t":19500,"v":53},{"s":"TOTAL","t":19800,"v":57},{"s":"TOTAL","t":20100,"v":52},{"s":"TOTAL","t":20400,"v":58},{"s":"TOTAL","t":20700,"v":53},{"s":"TOTAL","t":21000,"v":57},{"s":"TOTAL","t":21300,"v":52},{"s":"TOTAL","t":21600,"v":58},{"s":"TOTAL","t":21900,"v":53},{"s":"TOTAL","t":22200,"v":56},{"s":"TOTAL","t":22400,"v":75},{"s":"TOTAL","t":22500,"v":103},{"s":"TOTAL","t":22600,"v":65},{"s":"TOTAL","t":22800,"v":55},{"s":"TOTAL","t":23100,"v":52},{"s":"TOTAL","t":23400,"v":57},{"s":"TOTAL","t":23700,"v":53},{"s":"TOTAL","t":24000,"v":58},{"s":"TOTAL","t":24300,"v":52},{"s":"TOTAL","t":24600,"v":57},{"s":"TOTAL","t":24900,"v":53},{"s":"TOTAL","t":25200,"v":58},{"s":"TOTAL","t":25500,"v":52},{"s":"TOTAL","t":25800,"v":57},{"s":"TOTAL","t":26100,"v":53},{"s":"TOTAL","t":26400,"v":58},{"s":"TOTAL","t":26700,"v":52},{"s":"TOTAL","t":27000,"v":57},{"s":"TOTAL","t":27300,"v":53},{"s":"TOTAL","t":27600,"v":56},{"s":"TOTAL","t":27900,"v":54},
      {"s":"TOTAL","t":28000,"v":52},{"s":"TOTAL","t":28100,"v":90},{"s":"TOTAL","t":28200,"v":150},{"s":"TOTAL","t":28300,"v":155},{"s":"TOTAL","t":28400,"v":130},{"s":"TOTAL","t":28500,"v":60},{"s":"TOTAL","t":28600,"v":140},{"s":"TOTAL","t":28700,"v":45},{"s":"TOTAL","t":28800,"v":150},{"s":"TOTAL","t":28900,"v":40},{"s":"TOTAL","t":29000,"v":120},{"s":"TOTAL","t":29100,"v":60},{"s":"TOTAL","t":29200,"v":100},{"s":"TOTAL","t":29300,"v":130},{"s":"TOTAL","t":29400,"v":95},{"s":"TOTAL","t":29600,"v":150},{"s":"TOTAL","t":29800,"v":140},{"s":"TOTAL","t":30000,"v":170},{"s":"TOTAL","t":30200,"v":185},{"s":"TOTAL","t":30350,"v":197},{"s":"TOTAL","t":30500,"v":172},{"s":"TOTAL","t":30700,"v":150},{"s":"TOTAL","t":30900,"v":145},{"s":"TOTAL","t":31100,"v":172},{"s":"TOTAL","t":31300,"v":160},{"s":"TOTAL","t":31500,"v":176},{"s":"TOTAL","t":31700,"v":165},{"s":"TOTAL","t":32000,"v":160},{"s":"TOTAL","t":32300,"v":170},{"s":"TOTAL","t":32600,"v":165},{"s":"TOTAL","t":32800,"v":178},{"s":"TOTAL","t":33000,"v":168},{"s":"TOTAL","t":33200,"v":153},{"s":"TOTAL","t":33400,"v":170},{"s":"TOTAL","t":33700,"v":165},{"s":"TOTAL","t":34000,"v":176},{"s":"TOTAL","t":34300,"v":166},{"s":"TOTAL","t":34600,"v":172},{"s":"TOTAL","t":34900,"v":165},{"s":"TOTAL","t":35200,"v":170},{"s":"TOTAL","t":35500,"v":168},{"s":"TOTAL","t":35800,"v":175},{"s":"TOTAL","t":36100,"v":165},{"s":"TOTAL","t":36400,"v":172},{"s":"TOTAL","t":36700,"v":168},{"s":"TOTAL","t":37000,"v":176},{"s":"TOTAL","t":37300,"v":183},{"s":"TOTAL","t":37500,"v":168},{"s":"TOTAL","t":37800,"v":172},{"s":"TOTAL","t":38100,"v":165},{"s":"TOTAL","t":38400,"v":170},{"s":"TOTAL","t":38700,"v":176},{"s":"TOTAL","t":39000,"v":168},{"s":"TOTAL","t":39300,"v":172},{"s":"TOTAL","t":39600,"v":165},{"s":"TOTAL","t":39900,"v":175},{"s":"TOTAL","t":40200,"v":168},{"s":"TOTAL","t":40500,"v":172},{"s":"TOTAL","t":40800,"v":178},{"s":"TOTAL","t":41100,"v":167},{"s":"TOTAL","t":41400,"v":152},{"s":"TOTAL","t":41600,"v":170},{"s":"TOTAL","t":41900,"v":176},{"s":"TOTAL","t":42200,"v":168},{"s":"TOTAL","t":42500,"v":172},{"s":"TOTAL","t":42800,"v":166},{"s":"TOTAL","t":43100,"v":170},{"s":"TOTAL","t":43400,"v":165},{"s":"TOTAL","t":43700,"v":168},{"s":"TOTAL","t":44000,"v":166},{"s":"TOTAL","t":44300,"v":169},{"s":"TOTAL","t":44600,"v":167},{"s":"TOTAL","t":44900,"v":168},{"s":"TOTAL","t":45200,"v":174},{"s":"TOTAL","t":45500,"v":175},{"s":"TOTAL","t":45800,"v":174},{"s":"TOTAL","t":46000,"v":172},{"s":"TOTAL","t":46200,"v":140},{"s":"TOTAL","t":46400,"v":118},
      {"s":"TOTAL","t":46600,"v":114},{"s":"TOTAL","t":46900,"v":117},{"s":"TOTAL","t":47200,"v":112},{"s":"TOTAL","t":47500,"v":119},{"s":"TOTAL","t":47800,"v":113},{"s":"TOTAL","t":48100,"v":117},{"s":"TOTAL","t":48400,"v":110},{"s":"TOTAL","t":48700,"v":118},{"s":"TOTAL","t":49000,"v":114},{"s":"TOTAL","t":49300,"v":119},{"s":"TOTAL","t":49600,"v":113},{"s":"TOTAL","t":49900,"v":116},{"s":"TOTAL","t":50200,"v":111},{"s":"TOTAL","t":50500,"v":119},{"s":"TOTAL","t":50800,"v":115},{"s":"TOTAL","t":51100,"v":118},{"s":"TOTAL","t":51400,"v":112},{"s":"TOTAL","t":51700,"v":117},{"s":"TOTAL","t":52000,"v":113},{"s":"TOTAL","t":52300,"v":119},{"s":"TOTAL","t":52600,"v":114},{"s":"TOTAL","t":52900,"v":117},{"s":"TOTAL","t":53200,"v":112},{"s":"TOTAL","t":53500,"v":119},{"s":"TOTAL","t":53800,"v":114},{"s":"TOTAL","t":54100,"v":117},{"s":"TOTAL","t":54400,"v":112},{"s":"TOTAL","t":54700,"v":118},{"s":"TOTAL","t":55000,"v":114},{"s":"TOTAL","t":55300,"v":117},{"s":"TOTAL","t":55600,"v":113},{"s":"TOTAL","t":55900,"v":116},{"s":"TOTAL","t":56200,"v":114},{"s":"TOTAL","t":56500,"v":117},
      {"s":"TOTAL","t":56800,"v":125},{"s":"TOTAL","t":57000,"v":150},{"s":"TOTAL","t":57300,"v":160},{"s":"TOTAL","t":57600,"v":163},{"s":"TOTAL","t":57900,"v":170},{"s":"TOTAL","t":58100,"v":168},{"s":"TOTAL","t":58300,"v":130},{"s":"TOTAL","t":58500,"v":115},{"s":"TOTAL","t":58800,"v":112},{"s":"TOTAL","t":59100,"v":116},{"s":"TOTAL","t":59400,"v":112},{"s":"TOTAL","t":59700,"v":115},{"s":"TOTAL","t":60000,"v":113},{"s":"TOTAL","t":60300,"v":116},{"s":"TOTAL","t":60600,"v":112},{"s":"TOTAL","t":60900,"v":120},{"s":"TOTAL","t":61100,"v":70},{"s":"TOTAL","t":61300,"v":30},{"s":"TOTAL","t":61500,"v":2},{"s":"TOTAL","t":62200,"v":2},{"s":"TOTAL","t":62300,"v":40},{"s":"TOTAL","t":62450,"v":12},{"s":"TOTAL","t":62600,"v":50},{"s":"TOTAL","t":62750,"v":20},{"s":"TOTAL","t":62900,"v":60},{"s":"TOTAL","t":63050,"v":25},{"s":"TOTAL","t":63200,"v":45},{"s":"TOTAL","t":63400,"v":15},{"s":"TOTAL","t":63550,"v":60},{"s":"TOTAL","t":63700,"v":107},{"s":"TOTAL","t":63850,"v":75},{"s":"TOTAL","t":64000,"v":84},
      {"s":"TOTAL","t":64300,"v":88},{"s":"TOTAL","t":64600,"v":80},{"s":"TOTAL","t":64900,"v":86},{"s":"TOTAL","t":65200,"v":66},{"s":"TOTAL","t":65400,"v":85},{"s":"TOTAL","t":65700,"v":82},{"s":"TOTAL","t":66000,"v":87},{"s":"TOTAL","t":66300,"v":80},{"s":"TOTAL","t":66600,"v":85},{"s":"TOTAL","t":66800,"v":90},{"s":"TOTAL","t":67000,"v":120},{"s":"TOTAL","t":67200,"v":86},{"s":"TOTAL","t":67500,"v":82},{"s":"TOTAL","t":67800,"v":87},{"s":"TOTAL","t":68100,"v":80},{"s":"TOTAL","t":68400,"v":64},{"s":"TOTAL","t":68600,"v":84},{"s":"TOTAL","t":68900,"v":86},{"s":"TOTAL","t":69200,"v":80},{"s":"TOTAL","t":69500,"v":84},{"s":"TOTAL","t":69700,"v":60},{"s":"TOTAL","t":69850,"v":2},{"s":"TOTAL","t":70100,"v":2},{"s":"TOTAL","t":70200,"v":60},{"s":"TOTAL","t":70300,"v":2},{"s":"TOTAL","t":70500,"v":2},{"s":"TOTAL","t":70650,"v":120},{"s":"TOTAL","t":70800,"v":171},{"s":"TOTAL","t":70950,"v":165},{"s":"TOTAL","t":71100,"v":150},{"s":"TOTAL","t":71250,"v":162},{"s":"TOTAL","t":71400,"v":140},{"s":"TOTAL","t":71550,"v":158},{"s":"TOTAL","t":71700,"v":145},{"s":"TOTAL","t":71850,"v":165},{"s":"TOTAL","t":72000,"v":140},{"s":"TOTAL","t":72200,"v":150},{"s":"TOTAL","t":72400,"v":120},{"s":"TOTAL","t":72600,"v":140},{"s":"TOTAL","t":72800,"v":100},{"s":"TOTAL","t":73000,"v":125},{"s":"TOTAL","t":73200,"v":105},{"s":"TOTAL","t":73400,"v":122},{"s":"TOTAL","t":73600,"v":95},{"s":"TOTAL","t":73800,"v":110},{"s":"TOTAL","t":74000,"v":98},{"s":"TOTAL","t":74200,"v":108},{"s":"TOTAL","t":74400,"v":90},{"s":"TOTAL","t":74600,"v":80},
      {"s":"TOTAL","t":74800,"v":82},{"s":"TOTAL","t":75100,"v":76},{"s":"TOTAL","t":75400,"v":83},{"s":"TOTAL","t":75700,"v":77},{"s":"TOTAL","t":76000,"v":82},{"s":"TOTAL","t":76300,"v":76},{"s":"TOTAL","t":76600,"v":84},{"s":"TOTAL","t":76900,"v":77},{"s":"TOTAL","t":77200,"v":82},{"s":"TOTAL","t":77500,"v":76},{"s":"TOTAL","t":77800,"v":83},{"s":"TOTAL","t":78100,"v":77},{"s":"TOTAL","t":78400,"v":80},{"s":"TOTAL","t":78700,"v":95},{"s":"TOTAL","t":79000,"v":120},{"s":"TOTAL","t":79200,"v":130},{"s":"TOTAL","t":79400,"v":110},{"s":"TOTAL","t":79600,"v":133},{"s":"TOTAL","t":79800,"v":118},{"s":"TOTAL","t":80000,"v":130},{"s":"TOTAL","t":80200,"v":95},{"s":"TOTAL","t":80400,"v":82},{"s":"TOTAL","t":80600,"v":79},{"s":"TOTAL","t":81500,"v":79.5},{"s":"TOTAL","t":82500,"v":79.3},{"s":"TOTAL","t":83500,"v":79.5},{"s":"TOTAL","t":84000,"v":79},{"s":"TOTAL","t":84200,"v":55},{"s":"TOTAL","t":84400,"v":22},{"s":"TOTAL","t":84600,"v":2},{"s":"TOTAL","t":85000,"v":0.5},{"s":"TOTAL","t":86500,"v":0.5},

      {"s":"TOTAL smoothed","t":2500,"v":0},{"s":"TOTAL smoothed","t":3000,"v":1},{"s":"TOTAL smoothed","t":3200,"v":5},{"s":"TOTAL smoothed","t":3500,"v":15},{"s":"TOTAL smoothed","t":3700,"v":40},{"s":"TOTAL smoothed","t":3900,"v":70},{"s":"TOTAL smoothed","t":4100,"v":78},{"s":"TOTAL smoothed","t":4400,"v":80},{"s":"TOTAL smoothed","t":9600,"v":79.5},{"s":"TOTAL smoothed","t":9900,"v":74},{"s":"TOTAL smoothed","t":10100,"v":55},{"s":"TOTAL smoothed","t":10400,"v":40},{"s":"TOTAL smoothed","t":10700,"v":40},{"s":"TOTAL smoothed","t":10900,"v":48},{"s":"TOTAL smoothed","t":11100,"v":42},{"s":"TOTAL smoothed","t":11400,"v":50},{"s":"TOTAL smoothed","t":11800,"v":54},{"s":"TOTAL smoothed","t":12500,"v":55},{"s":"TOTAL smoothed","t":16500,"v":55},{"s":"TOTAL smoothed","t":17000,"v":58},{"s":"TOTAL smoothed","t":17200,"v":61},{"s":"TOTAL smoothed","t":17500,"v":57},{"s":"TOTAL smoothed","t":18000,"v":55},{"s":"TOTAL smoothed","t":22000,"v":55},{"s":"TOTAL smoothed","t":22400,"v":59},{"s":"TOTAL smoothed","t":22600,"v":62},{"s":"TOTAL smoothed","t":23000,"v":57},{"s":"TOTAL smoothed","t":23500,"v":55},{"s":"TOTAL smoothed","t":27800,"v":55},{"s":"TOTAL smoothed","t":28100,"v":60},{"s":"TOTAL smoothed","t":28400,"v":120},{"s":"TOTAL smoothed","t":28700,"v":100},{"s":"TOTAL smoothed","t":29000,"v":80},{"s":"TOTAL smoothed","t":29300,"v":75},{"s":"TOTAL smoothed","t":29600,"v":100},{"s":"TOTAL smoothed","t":30000,"v":140},{"s":"TOTAL smoothed","t":30400,"v":165},{"s":"TOTAL smoothed","t":30600,"v":170},{"s":"TOTAL smoothed","t":31000,"v":160},{"s":"TOTAL smoothed","t":31500,"v":165},{"s":"TOTAL smoothed","t":32000,"v":168},{"s":"TOTAL smoothed","t":33000,"v":165},{"s":"TOTAL smoothed","t":34000,"v":168},{"s":"TOTAL smoothed","t":35000,"v":166},{"s":"TOTAL smoothed","t":36000,"v":170},{"s":"TOTAL smoothed","t":37000,"v":168},{"s":"TOTAL smoothed","t":37400,"v":173},{"s":"TOTAL smoothed","t":38000,"v":167},{"s":"TOTAL smoothed","t":39000,"v":168},{"s":"TOTAL smoothed","t":40000,"v":169},{"s":"TOTAL smoothed","t":41000,"v":168},{"s":"TOTAL smoothed","t":42000,"v":169},{"s":"TOTAL smoothed","t":43000,"v":166},{"s":"TOTAL smoothed","t":44000,"v":167},{"s":"TOTAL smoothed","t":45000,"v":168},{"s":"TOTAL smoothed","t":45800,"v":170},{"s":"TOTAL smoothed","t":46000,"v":160},{"s":"TOTAL smoothed","t":46200,"v":130},{"s":"TOTAL smoothed","t":46500,"v":118},{"s":"TOTAL smoothed","t":47000,"v":116},{"s":"TOTAL smoothed","t":52000,"v":115},{"s":"TOTAL smoothed","t":56500,"v":116},{"s":"TOTAL smoothed","t":57000,"v":125},{"s":"TOTAL smoothed","t":57300,"v":140},{"s":"TOTAL smoothed","t":57600,"v":150},{"s":"TOTAL smoothed","t":58000,"v":150},{"s":"TOTAL smoothed","t":58300,"v":140},{"s":"TOTAL smoothed","t":58500,"v":120},{"s":"TOTAL smoothed","t":59000,"v":116},{"s":"TOTAL smoothed","t":60800,"v":116},{"s":"TOTAL smoothed","t":61000,"v":100},{"s":"TOTAL smoothed","t":61300,"v":60},{"s":"TOTAL smoothed","t":61600,"v":30},{"s":"TOTAL smoothed","t":61900,"v":15},{"s":"TOTAL smoothed","t":62200,"v":12},{"s":"TOTAL smoothed","t":62600,"v":20},{"s":"TOTAL smoothed","t":63000,"v":30},{"s":"TOTAL smoothed","t":63400,"v":50},{"s":"TOTAL smoothed","t":63800,"v":70},{"s":"TOTAL smoothed","t":64200,"v":80},{"s":"TOTAL smoothed","t":65000,"v":82},{"s":"TOTAL smoothed","t":66000,"v":82},{"s":"TOTAL smoothed","t":67000,"v":86},{"s":"TOTAL smoothed","t":68000,"v":82},{"s":"TOTAL smoothed","t":69000,"v":82},{"s":"TOTAL smoothed","t":69600,"v":80},{"s":"TOTAL smoothed","t":69900,"v":60},{"s":"TOTAL smoothed","t":70200,"v":40},{"s":"TOTAL smoothed","t":70500,"v":70},{"s":"TOTAL smoothed","t":70800,"v":120},{"s":"TOTAL smoothed","t":71200,"v":155},{"s":"TOTAL smoothed","t":71800,"v":150},{"s":"TOTAL smoothed","t":72400,"v":135},{"s":"TOTAL smoothed","t":73000,"v":120},{"s":"TOTAL smoothed","t":73600,"v":110},{"s":"TOTAL smoothed","t":74200,"v":100},{"s":"TOTAL smoothed","t":74600,"v":85},{"s":"TOTAL smoothed","t":75000,"v":80},{"s":"TOTAL smoothed","t":78400,"v":80},{"s":"TOTAL smoothed","t":78800,"v":90},{"s":"TOTAL smoothed","t":79200,"v":110},{"s":"TOTAL smoothed","t":79600,"v":120},{"s":"TOTAL smoothed","t":80000,"v":110},{"s":"TOTAL smoothed","t":80400,"v":85},{"s":"TOTAL smoothed","t":80800,"v":80},{"s":"TOTAL smoothed","t":83800,"v":80},{"s":"TOTAL smoothed","t":84100,"v":75},{"s":"TOTAL smoothed","t":84400,"v":50},{"s":"TOTAL smoothed","t":84700,"v":20},{"s":"TOTAL smoothed","t":85000,"v":8},{"s":"TOTAL smoothed","t":85300,"v":2},{"s":"TOTAL smoothed","t":85600,"v":0.5},

      {"s":"APID 1154 PACS_SPEC_HK","t":0,"v":0},{"s":"APID 1154 PACS_SPEC_HK","t":3400,"v":0},{"s":"APID 1154 PACS_SPEC_HK","t":3500,"v":2.3},{"s":"APID 1154 PACS_SPEC_HK","t":84600,"v":2.3},{"s":"APID 1154 PACS_SPEC_HK","t":84700,"v":0},{"s":"APID 1154 PACS_SPEC_HK","t":86500,"v":0},
      {"s":"APID 1152 PACS_ESSENTIAL_HK","t":0,"v":0.1},{"s":"APID 1152 PACS_ESSENTIAL_HK","t":86500,"v":0.1},
      {"s":"APID 1152 PACS_TC_EXE_START","g":1,"t":11050,"v":-0.8},{"s":"APID 1152 PACS_TC_EXE_START","g":1,"t":28200,"v":-0.8},
      {"s":"APID 1152 PACS_TC_EXE_START","g":2,"t":57450,"v":-0.8},{"s":"APID 1152 PACS_TC_EXE_START","g":2,"t":61600,"v":-0.8},
      {"s":"APID 1152 PACS_TC_EXE_START","g":3,"t":72750,"v":-0.8},{"s":"APID 1152 PACS_TC_EXE_START","g":3,"t":81000,"v":-0.8},
      {"s":"APID 1152 PACS_LINK_CONNECTION","g":1,"t":0,"v":1},{"s":"APID 1152 PACS_LINK_CONNECTION","g":1,"t":3400,"v":1},{"s":"APID 1152 PACS_LINK_CONNECTION","g":1,"t":3500,"v":0},
      {"s":"APID 1152 PACS_LINK_CONNECTION","g":2,"t":84800,"v":0},{"s":"APID 1152 PACS_LINK_CONNECTION","g":2,"t":85000,"v":1},{"s":"APID 1152 PACS_LINK_CONNECTION","g":2,"t":86500,"v":1},{"s":"APID 1152 PACS_LINK_CONNECTION","g":2,"t":86700,"v":0}
    ]
  },
  "resolve": {"axis": {"x": "independent", "y": "independent"}},
  "layer": [
    {
      "mark": {"type": "line", "strokeWidth": 1.2, "interpolate": "linear"},
      "encoding": {
        "x": {
          "field": "t", "type": "quantitative",
          "scale": {"domain": [-10000, 90000], "nice": false, "zero": false},
          "axis": {
            "orient": "bottom", "title": "Time [s]", "titlePadding": 7,
            "values": [-10000, 0, 10000, 20000, 30000, 40000, 50000, 60000, 70000, 80000, 90000],
            "labelExpr": "datum.value == 0 ? '0' : (datum.value == 10000 ? '10⁴' : format(datum.value / 10000, 'd') + ' 10⁴')",
            "tickSize": -12, "labelPadding": 22, "grid": true, "labelFlush": false, "labelOverlap": false
          }
        },
        "y": {
          "field": "v", "type": "quantitative",
          "scale": {"domain": [-20, 220], "nice": false, "zero": false},
          "axis": {
            "orient": "left", "title": "Data rate [kbit/s]", "titlePadding": 10, "titleFontSize": 22,
            "values": [-20, 0, 20, 40, 60, 80, 100, 120, 140, 160, 180, 200, 220],
            "tickSize": -12, "labelPadding": 19, "grid": true, "labelFlush": false, "labelOverlap": false
          }
        },
        "color": {
          "field": "s", "type": "nominal", "sort": null,
          "scale": {
            "domain": ["TOTAL", "TOTAL smoothed", "APID 1152 PACS_ESSENTIAL_HK", "APID 1162 PACS_SCIENCE_SPEC_BLUE", "APID 1152 PACS_LINK_CONNECTION", "APID 1152 PACS_TC_ACP_OK", "APID 1152 PACS_TC_EXE_COMPL", "APID 1160 PACS_SCIENCE_SPEC_RED", "APID 1152 PACS_EVENT_REPORT_8_15", "APID 1154 PACS_SPEC_HK", "APID 1152 PACS_TC_EXE_START", "APID 1158 PACS_DIAGNOSTIC_SCIENCE_REP", "APID 1154 PACS_NO_PRIME_HK"],
            "range": ["#1010e0", "#30d0d0", "#22ee22", "#b89a4a", "#ff6666", "#ff66ff", "#777777", "#a8a8a8", "#5555ff", "#44c4bc", "#22dd22", "#c09010", "#ee1111"]
          },
          "legend": {
            "title": null,
            "labelExpr": "indexof(datum.label, 'APID') == 0 ? '\u00a0\u00a0' + datum.label : datum.label"
          }
        },
        "detail": {"field": "g", "type": "nominal"}
      }
    },
    {
      "mark": {"type": "point", "opacity": 0},
      "encoding": {
        "x": {"field": "t", "type": "quantitative", "axis": {"orient": "bottom", "title": null, "labels": false, "domain": false, "grid": false, "tickSize": -6, "values": [-8000, -6000, -4000, -2000, 2000, 4000, 6000, 8000, 12000, 14000, 16000, 18000, 22000, 24000, 26000, 28000, 32000, 34000, 36000, 38000, 42000, 44000, 46000, 48000, 52000, 54000, 56000, 58000, 62000, 64000, 66000, 68000, 72000, 74000, 76000, 78000, 82000, 84000, 86000, 88000]}},
        "y": {"field": "v", "type": "quantitative", "axis": {"orient": "left", "title": null, "labels": false, "domain": false, "grid": false, "tickSize": -6, "values": [-15, -10, -5, 5, 10, 15, 25, 30, 35, 45, 50, 55, 65, 70, 75, 85, 90, 95, 105, 110, 115, 125, 130, 135, 145, 150, 155, 165, 170, 175, 185, 190, 195, 205, 210, 215]}}
      }
    },
    {
      "mark": {"type": "point", "opacity": 0},
      "encoding": {
        "x": {"field": "t", "type": "quantitative", "axis": {"orient": "top", "title": null, "labels": false, "domain": true, "grid": false, "tickSize": -12, "values": [-10000, 0, 10000, 20000, 30000, 40000, 50000, 60000, 70000, 80000, 90000]}},
        "y": {"field": "v", "type": "quantitative", "axis": {"orient": "right", "title": null, "labels": false, "domain": true, "grid": false, "tickSize": -12, "values": [-20, 0, 20, 40, 60, 80, 100, 120, 140, 160, 180, 200, 220]}}
      }
    },
    {
      "mark": {"type": "point", "opacity": 0},
      "encoding": {
        "x": {"field": "t", "type": "quantitative", "axis": {"orient": "top", "title": null, "labels": false, "domain": false, "grid": false, "tickSize": -6, "values": [-8000, -6000, -4000, -2000, 2000, 4000, 6000, 8000, 12000, 14000, 16000, 18000, 22000, 24000, 26000, 28000, 32000, 34000, 36000, 38000, 42000, 44000, 46000, 48000, 52000, 54000, 56000, 58000, 62000, 64000, 66000, 68000, 72000, 74000, 76000, 78000, 82000, 84000, 86000, 88000]}},
        "y": {"field": "v", "type": "quantitative", "axis": {"orient": "right", "title": null, "labels": false, "domain": false, "grid": false, "tickSize": -6, "values": [-15, -10, -5, 5, 10, 15, 25, 30, 35, 45, 50, 55, 65, 70, 75, 85, 90, 95, 105, 110, 115, 125, 130, 135, 145, 150, 155, 165, 170, 175, 185, 190, 195, 205, 210, 215]}}
      }
    }
  ]
}
